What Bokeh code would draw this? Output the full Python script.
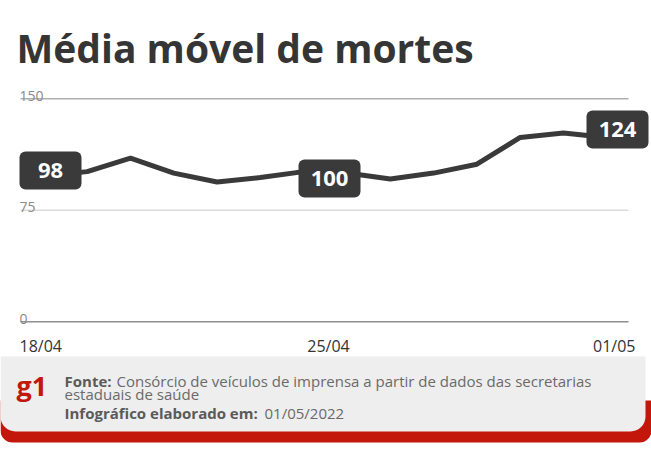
from bokeh.plotting import figure
from bokeh.models import Range1d, ColumnDataSource
from bokeh.core.properties import value
from bokeh.embed import file_html
from bokeh.resources import INLINE

# ---------------- data ----------------
dates = ["18/04", "19/04", "20/04", "21/04", "22/04", "23/04", "24/04",
         "25/04", "26/04", "27/04", "28/04", "29/04", "30/04", "01/05"]
deaths = [98, 101, 110, 100, 94, 97, 101, 100, 96, 100, 106, 124, 127, 124]
labelled_dates = ["18/04", "25/04", "01/05"]
y_ticks = [0, 75, 150]
x_tick_labels = ["18/04", "25/04", "01/05"]

title_text = "Média móvel de mortes"
source_bold = "Fonte:"
source_line1 = "Consórcio de veículos de imprensa a partir de dados das secretarias"
source_line2 = "estaduais de saúde"
date_bold = "Infográfico elaborado em:"
date_text = "01/05/2022"
logo_text = "g1"

# ---------------- style / layout ----------------
W, H = 651, 450
DARK = "#3a3a3a"
RED = "#c4170c"
FONT = value("Open Sans")

PX_DAY = 43.3                     # px per day
X0_PX = 43.4                      # px of first day
PX_UNIT = 1.487                   # px per death
Y0_PX = 321.3                     # px (from top) of value 0
grid_colors = {0: "#8e8e8e", 75: "#dadada", 150: "#b0b0b0"}
box_dx = [6.6, -17.5, 10.7]       # label box offsets (px, right)
box_dy = [-5.6, 5.4, -7.9]        # label box offsets (px, down)


def X(px):
    return (px - X0_PX) / PX_DAY


def Y(py):
    return (Y0_PX - py) / PX_UNIT


p = figure(width=W, height=H, x_range=Range1d(X(0), X(W)), y_range=Range1d(Y(H), Y(0)),
           output_backend="svg", toolbar_location=None, tools="",
           x_axis_location=None, y_axis_location=None, min_border=0)
p.grid.visible = False
p.outline_line_color = None
p.background_fill_color = "white"
p.border_fill_color = "white"

# ---------------- footer panels ----------------
p.quad(left=[X(0)], right=[X(651)], top=[Y(400)], bottom=[Y(442)], fill_color=RED,
       line_color=None, border_radius=(0, 0, 12, 12))
p.quad(left=[X(0)], right=[X(645)], top=[Y(356)], bottom=[Y(431)], fill_color="#eeeeee",
       line_color=None, border_radius=(0, 0, 15, 15))

# ---------------- title ----------------
p.text(x=[X(16)], y=[Y(47)], text=[title_text], text_font=FONT, text_font_style="bold",
       text_font_size="39px", text_color="#353535", text_baseline="alphabetic")

# ---------------- grid + axis labels ----------------
gx0, gx1 = X(20), X(628)
p.segment(x0=[gx0] * len(y_ticks), x1=[gx1] * len(y_ticks), y0=y_ticks, y1=y_ticks,
          line_color=[grid_colors[t] for t in y_ticks], line_width=1.6)

p.text(x=[gx0] * len(y_ticks), y=y_ticks, text=[str(t) for t in y_ticks],
       x_offset=-1, y_offset=-3, text_font=FONT, text_font_size="14px",
       text_color="#8a8a8a", text_baseline="alphabetic")

xl = ColumnDataSource(dict(x=[gx0, (gx0 + gx1) / 2, gx1], y=[0, 0, 0],
                           text=x_tick_labels, align=["left", "center", "right"],
                           dx=[-1, 4, 7]))
p.text(x="x", y="y", text="text", text_align="align", x_offset="dx", y_offset=24.5,
       source=xl, text_font=FONT, text_font_size="16px", text_color="#333333",
       text_baseline="alphabetic")

# ---------------- series ----------------
idx = list(range(len(dates)))
p.line(idx, deaths, line_color=DARK, line_width=5, line_join="round")

lab_i = [dates.index(d) for d in labelled_dates]
lab_v = [deaths[i] for i in lab_i]
lab = ColumnDataSource(dict(
    x=[i + dx / PX_DAY for i, dx in zip(lab_i, box_dx)],
    y=[v - dy / PX_UNIT for v, dy in zip(lab_v, box_dy)],
    text=[str(v) for v in lab_v]))
p.rect(x="x", y="y", width=62, height=38, width_units="screen", height_units="screen",
       fill_color=DARK, line_color=None, border_radius=6, source=lab)
p.text(x="x", y="y", text="text", source=lab, text_align="center", text_baseline="middle",
       text_font=FONT, text_font_style="bold", text_font_size="22px", text_color="white")

# ---------------- footer texts ----------------
p.text(x=[X(16)], y=[Y(385)], text=[logo_text], text_font=FONT, text_font_style="bold",
       text_font_size="27px", text_color=RED, text_baseline="alphabetic")
p.text(x=[X(64), X(64)], y=[Y(380), Y(412)], text=[source_bold, date_bold], text_font=FONT,
       text_font_style="bold", text_font_size="15px", text_color="#5a5a5a",
       text_baseline="alphabetic")
p.text(x=[X(116), X(64), X(264)], y=[Y(380), Y(393), Y(412)],
       text=[source_line1, source_line2, date_text],
       text_font=FONT, text_font_size="15px", text_color="#6a6a6a",
       text_baseline="alphabetic")

open("out.html", "w").write(file_html(p, INLINE))
